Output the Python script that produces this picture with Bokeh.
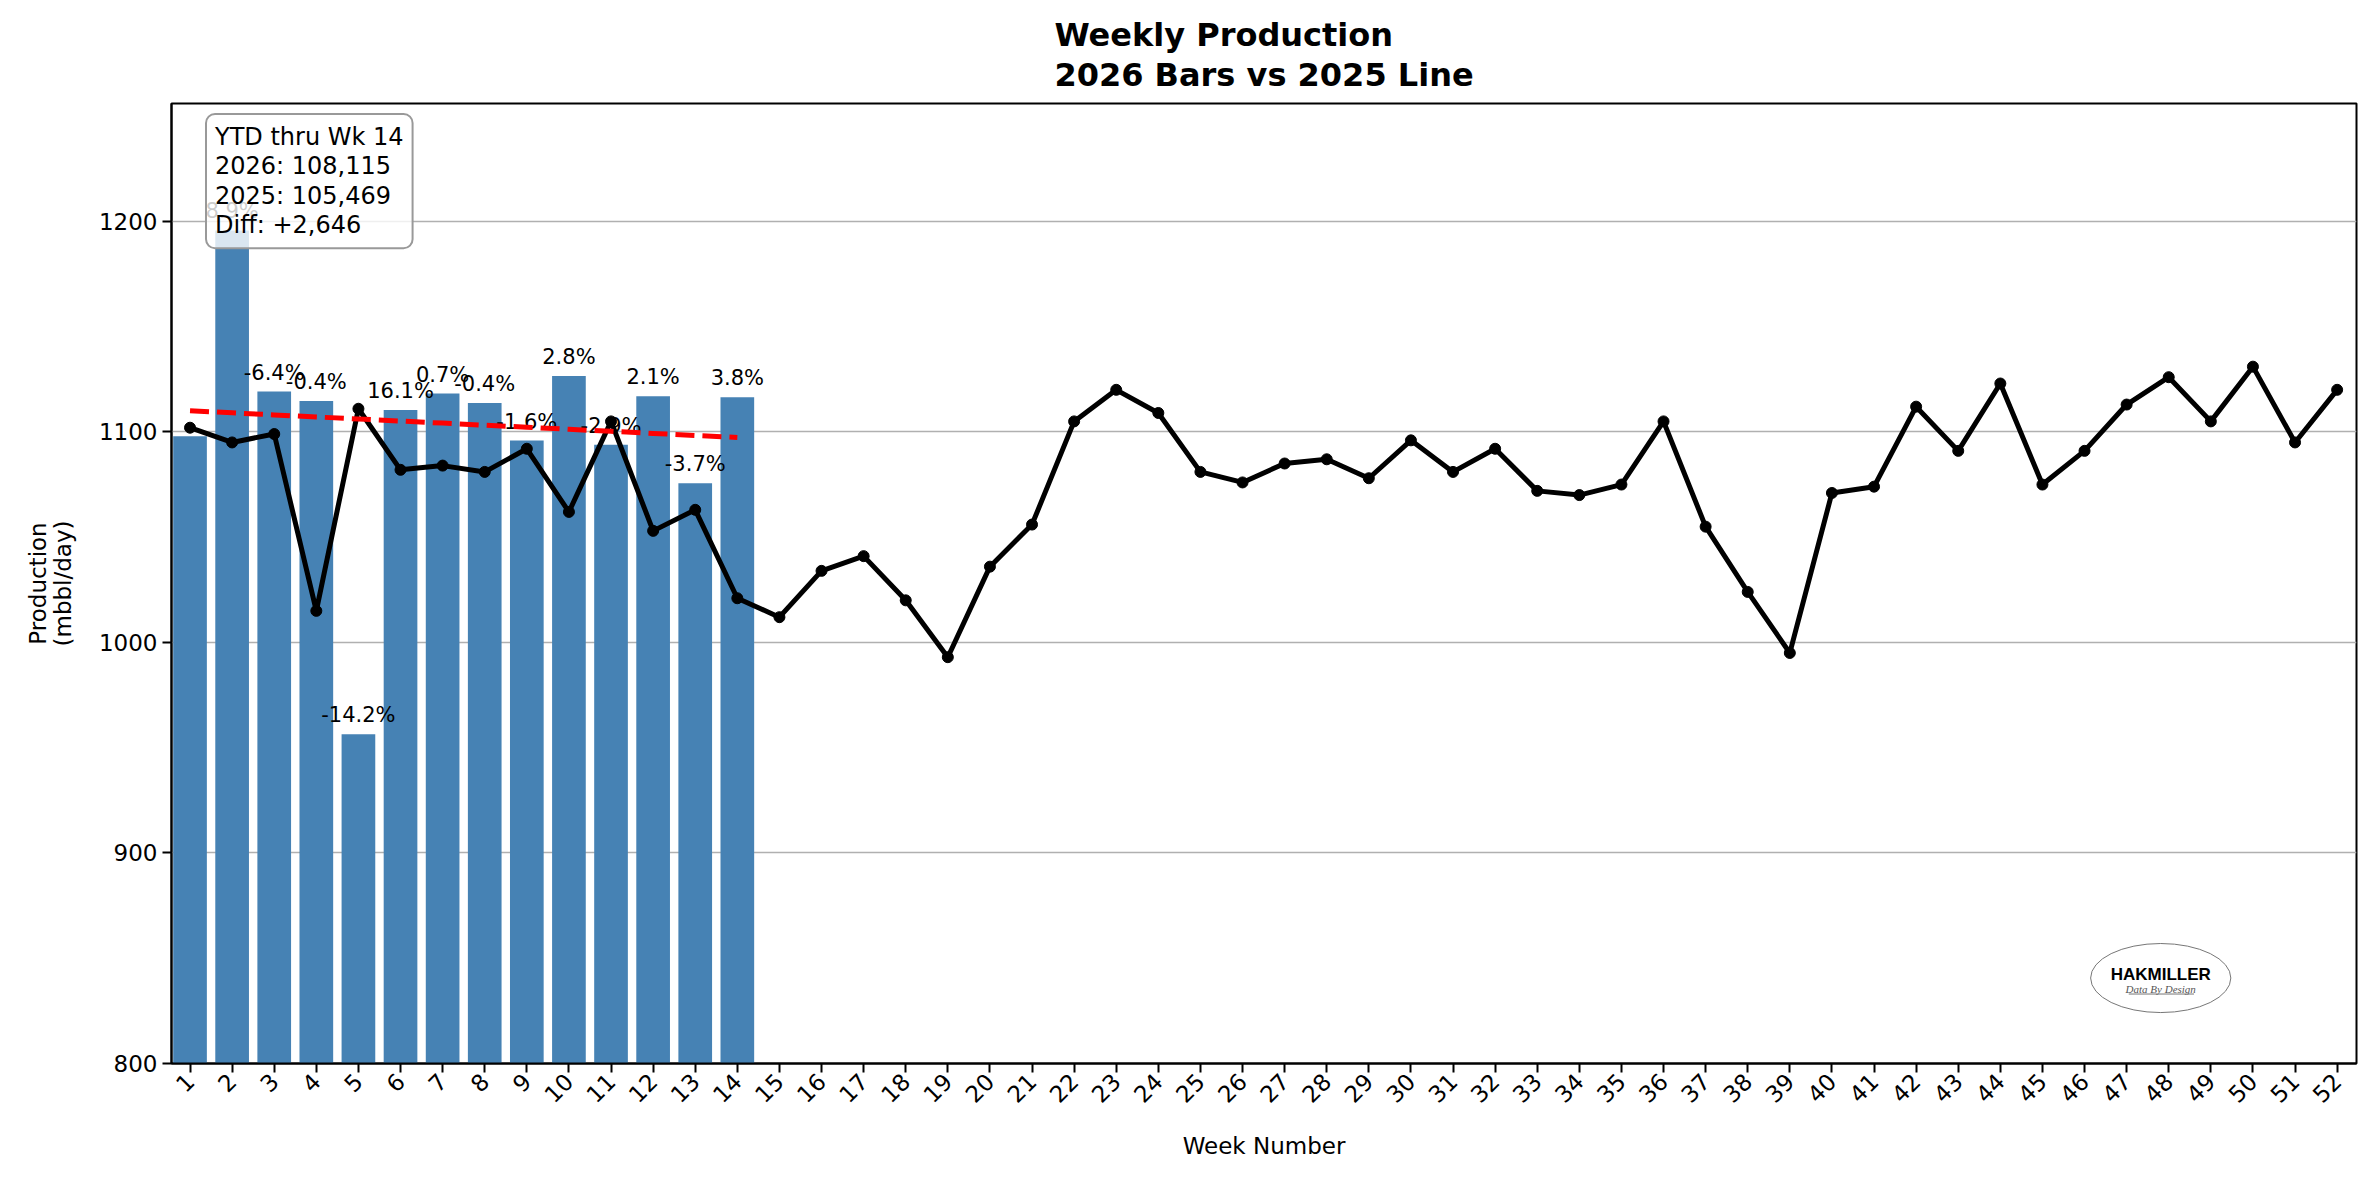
import numpy as np
from math import pi
from bokeh.plotting import figure
from bokeh.models import Range1d, FixedTicker, Label
from bokeh.core.properties import value
from bokeh.embed import file_html
from bokeh.resources import INLINE

# ---------------- data ----------------
weeks = list(range(1, 53))
prod_2025 = [1102, 1095, 1099, 1015, 1111, 1082, 1084, 1081, 1092, 1062,
             1105, 1053, 1063, 1021, 1012, 1034, 1041, 1020, 993, 1036,
             1056, 1105, 1120, 1109, 1081, 1076, 1085, 1087, 1078, 1096,
             1081, 1092, 1072, 1070, 1075, 1105, 1055, 1024, 995, 1071,
             1074, 1112, 1091, 1123, 1075, 1091, 1113, 1126, 1105, 1131,
             1095, 1120]
weeks_2026 = list(range(1, 15))
prod_2026 = [1098, 1195.7, 1119.2, 1114.7, 956.4, 1110.4, 1118.2, 1113.7,
             1095.9, 1126.6, 1093.9, 1116.9, 1075.6, 1116.5]
pct_labels = ["", "8.9%", "-6.4%", "-0.4%", "-14.2%", "16.1%", "0.7%", "-0.4%",
              "-1.6%", "2.8%", "-2.9%", "2.1%", "-3.7%", "3.8%"]
y_ticks = [800, 900, 1000, 1100, 1200]
ytd_lines = ["YTD thru Wk 14", "2026: 108,115", "2025: 105,469", "Diff: +2,646"]
title_lines = ["Weekly Production", "2026 Bars vs 2025 Line"]

FONT = "DejaVu Sans"

p = figure(width=2360, height=1166, output_backend="svg", toolbar_location=None,
           x_range=Range1d(0.56, 52.46), y_range=Range1d(800, 1256),
           min_border_left=171, min_border_right=4, min_border_top=103,
           min_border_bottom=103)

p.title.text = "\n".join(title_lines)
p.title.align = "center"
p.title.text_font = FONT
p.title.text_font_size = "32px"
p.title.text_font_style = "bold"
p.title.text_color = "black"
p.title.text_line_height = 1.05
p.title.standoff = 19

# bars
p.vbar(x=weeks_2026, top=prod_2026, bottom=0, width=0.8,
       fill_color="#4682B4", line_color=None)

# pct labels
p.text(x=weeks_2026, y=prod_2026, text=pct_labels, text_align="center",
       text_baseline="bottom", y_offset=-7, text_font=value(FONT),
       text_font_size="21px", text_color="black")

# 2025 line
p.line(weeks, prod_2025, line_color="black", line_width=5)
p.scatter(weeks, prod_2025, size=11, fill_color="black", line_color="black")

# trend on 2026
coef = np.polyfit(weeks_2026, prod_2026, 1)
p.line(weeks_2026, np.polyval(coef, weeks_2026), line_color="#ff0000",
       line_width=5, line_dash="19 8")

# logo
p.ellipse(x=[47.81], y=[840.6], width=3.33, height=32.8, fill_color=None,
          line_color="#777777", line_width=1)
p.text(x=[47.81], y=[842.5], text=["HAKMILLER"], text_align="center",
       text_baseline="middle", text_font=value("Liberation Sans"),
       text_font_style="bold", text_font_size="17px", text_color="black")
p.text(x=[47.81], y=[835.6], text=["Data By Design"], text_align="center",
       text_baseline="middle", text_font=value("Liberation Serif"),
       text_font_style="italic", text_font_size="11px", text_color="#555555")
p.segment(x0=[47.05], y0=[833.0], x1=[48.6], y1=[833.0], line_color="#777777",
          line_width=1)

# YTD box
box = Label(x=1.38, y=1251, text="\n".join(ytd_lines), anchor="top_left",
            text_align="left", text_baseline="top",
            text_font=FONT, text_font_size="24px", text_color="black",
            text_line_height=1.05, padding=9, border_radius=9,
            background_fill_color="white", background_fill_alpha=0.8,
            border_line_color="#999999", border_line_width=2)
p.add_layout(box)

# axes
p.xaxis.ticker = FixedTicker(ticks=weeks)
p.xaxis.major_label_orientation = pi / 4
p.yaxis.ticker = FixedTicker(ticks=y_ticks)
for ax in (p.xaxis, p.yaxis):
    ax.major_label_text_font = FONT
    ax.major_label_text_font_size = "23px"
    ax.major_label_text_color = "black"
    ax.axis_label_text_font = FONT
    ax.axis_label_text_font_size = "23px"
    ax.axis_label_text_font_style = "normal"
    ax.axis_label_text_color = "black"
    ax.axis_label_text_line_height = 0.97
    ax.axis_line_width = 2
    ax.axis_line_color = "black"
    ax.major_tick_line_width = 2
    ax.major_tick_line_color = "black"
    ax.major_tick_out = 9
    ax.major_tick_in = 0
    ax.minor_tick_line_color = None
p.xaxis.axis_label = "Week Number"
p.yaxis.axis_label = "Production\n(mbbl/day)"
p.xaxis.axis_label_standoff = 20
p.yaxis.axis_label_standoff = 20

p.xgrid.visible = False
p.ygrid.ticker = FixedTicker(ticks=y_ticks)
p.ygrid.grid_line_color = "#b0b0b0"
p.ygrid.grid_line_width = 1.6

p.outline_line_color = "black"
p.outline_line_width = 2
p.background_fill_color = "white"
p.border_fill_color = "white"

open("out.html", "w").write(file_html(p, INLINE))
